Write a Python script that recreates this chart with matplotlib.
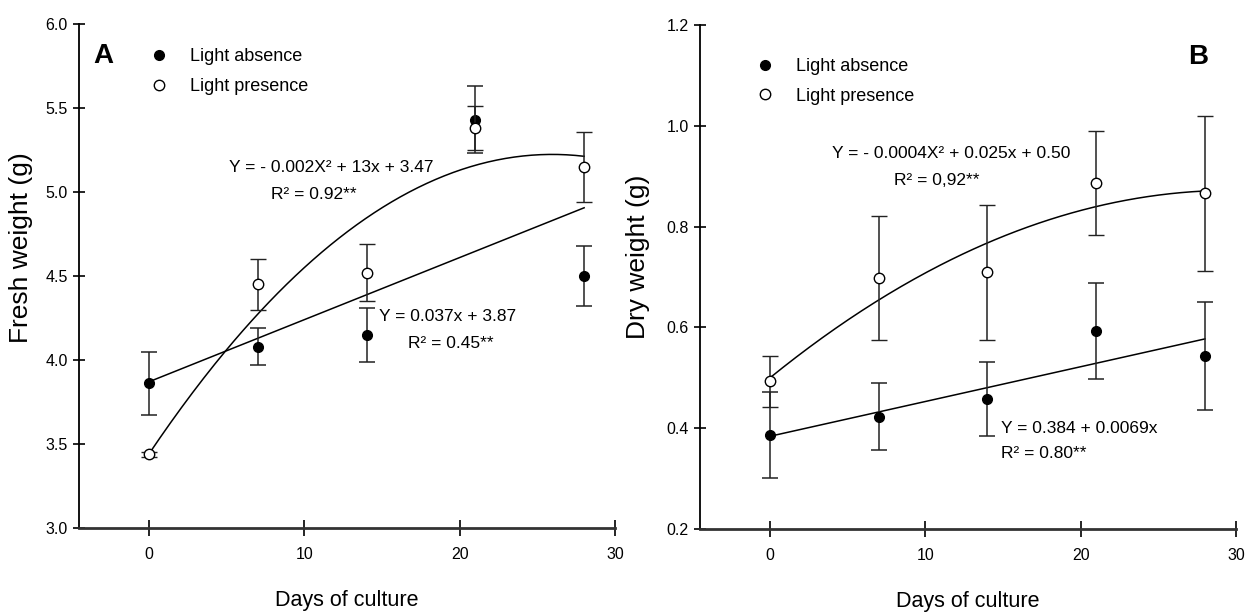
import numpy as np
import matplotlib.pyplot as plt
from matplotlib.lines import Line2D

plt.rcParams['font.family'] = ['Liberation Sans', 'DejaVu Sans']

# Days of culture
days = [0, 7, 14, 21, 28]

# Fresh weight (g)
fresh_dark = [3.86, 4.08, 4.15, 5.43, 4.50]
fresh_dark_err = [0.19, 0.11, 0.16, 0.20, 0.18]
fresh_light = [3.44, 4.45, 4.52, 5.38, 5.15]
fresh_light_err = [0.015, 0.15, 0.17, 0.13, 0.21]

# Dry weight (g)
dry_dark = [0.387, 0.423, 0.458, 0.593, 0.544]
dry_dark_err = [0.085, 0.066, 0.074, 0.095, 0.107]
dry_light = [0.493, 0.699, 0.709, 0.887, 0.866]
dry_light_err = [0.05, 0.123, 0.133, 0.103, 0.154]

# regression coefficients: intercept, slope, quadratic term
fresh_dark_fit = [3.87, 0.037, 0.0]
fresh_light_fit = [3.44, 0.1375, -0.00265]
dry_dark_fit = [0.384, 0.0069, 0.0]
dry_light_fit = [0.50, 0.025, -0.00042]

fresh_eqs = ['Y = - 0.002X² + 13x + 3.47', 'R² = 0.92**', 'Y = 0.037x + 3.87', 'R² = 0.45**']
dry_eqs = ['Y = - 0.0004X² + 0.025x + 0.50', 'R² = 0,92**', 'Y = 0.384 + 0.0069x', 'R² = 0.80**']
legend_labels = ['Light absence', 'Light presence']

fig = plt.figure(figsize=(12.53, 6.15), dpi=100)
axA = fig.add_axes([0.063, 0.1415, 0.428, 0.8195])
axB = fig.add_axes([0.5587, 0.1398, 0.4277, 0.8195])


def draw_panel(ax, dark, dark_err, light, light_err, dark_fit, light_fit):
    xs = np.linspace(days[0], days[-1], 200)
    for fit in (dark_fit, light_fit):
        ax.plot(xs, fit[0] + fit[1] * xs + fit[2] * xs ** 2, color='black', lw=1.1, zorder=2)
    ax.errorbar(days, dark, yerr=dark_err, fmt='o', color='black', ms=7,
                ecolor='#222222', elinewidth=1.1, capsize=6, capthick=1.1, zorder=3)
    ax.errorbar(days, light, yerr=light_err, fmt='o', mfc='white', mec='black', mew=1.0,
                ms=7.5, ecolor='#222222', elinewidth=1.1, capsize=6, capthick=1.1, zorder=4)
    ax.spines['top'].set_visible(False)
    ax.spines['right'].set_visible(False)
    ax.spines['left'].set_linewidth(1.3)
    ax.spines['bottom'].set_linewidth(2.0)
    ax.spines['bottom'].set_color('#333333')
    ax.set_xlim(-4.5, 30)
    ax.set_xticks([0, 10, 20, 30])
    ax.tick_params(axis='x', direction='inout', length=11, width=1.2, labelsize=11.5, pad=8)
    ax.tick_params(axis='y', direction='inout', length=8, width=1.2, labelsize=11.5, pad=4)
    ax.set_xlabel('Days of culture', fontsize=15.5, labelpad=20)
    handles = [Line2D([], [], marker='o', ls='none', color='black', ms=7),
               Line2D([], [], marker='o', ls='none', mfc='white', mec='black', ms=7.5)]
    return handles


def put(ax, x, y, s, ha='center'):
    ax.text(x, y, s, transform=ax.transAxes, fontsize=12.5, ha=ha, va='center')


# Panel A - fresh weight
hA = draw_panel(axA, fresh_dark, fresh_dark_err, fresh_light, fresh_light_err,
                fresh_dark_fit, fresh_light_fit)
axA.set_ylim(3.0, 6.0)
axA.set_yticks([3.0, 3.5, 4.0, 4.5, 5.0, 5.5, 6.0])
axA.set_yticklabels(['3.0', '3.5', '4.0', '4.5', '5.0', '5.5', '6.0'])
axA.set_ylabel('Fresh weight (g)', fontsize=19)
axA.yaxis.set_label_coords(-0.086, 0.556)
axA.text(0.045, 0.937, 'A', transform=axA.transAxes, fontsize=20, fontweight='bold',
         ha='center', va='center')
axA.legend(hA, legend_labels, loc='upper left',
           bbox_to_anchor=(0.1025, 0.984), frameon=False, fontsize=13,
           handlelength=1.0, handletextpad=1.22, labelspacing=0.71)
put(axA, 0.470, 0.716, fresh_eqs[0])
put(axA, 0.438, 0.661, fresh_eqs[1])
put(axA, 0.687, 0.419, fresh_eqs[2])
put(axA, 0.694, 0.367, fresh_eqs[3])

# Panel B - dry weight
hB = draw_panel(axB, dry_dark, dry_dark_err, dry_light, dry_light_err,
                dry_dark_fit, dry_light_fit)
axB.set_ylim(0.2, 1.2)
axB.set_yticks([0.2, 0.4, 0.6, 0.8, 1.0, 1.2])
axB.set_yticklabels(['0.2', '0.4', '0.6', '0.8', '1.0', '1.2'])
axB.set_ylabel('Dry weight (g)', fontsize=19)
axB.yaxis.set_label_coords(-0.093, 0.54)
axB.text(0.929, 0.937, 'B', transform=axB.transAxes, fontsize=20, fontweight='bold',
         ha='center', va='center')
axB.legend(hB, legend_labels, loc='upper left',
           bbox_to_anchor=(0.0745, 0.967), frameon=False, fontsize=13,
           handlelength=1.0, handletextpad=1.22, labelspacing=0.71)
put(axB, 0.468, 0.746, dry_eqs[0])
put(axB, 0.442, 0.692, dry_eqs[1])
put(axB, 0.562, 0.200, dry_eqs[2], ha='left')
put(axB, 0.562, 0.149, dry_eqs[3], ha='left')

fig.savefig('out.png', dpi=100)
